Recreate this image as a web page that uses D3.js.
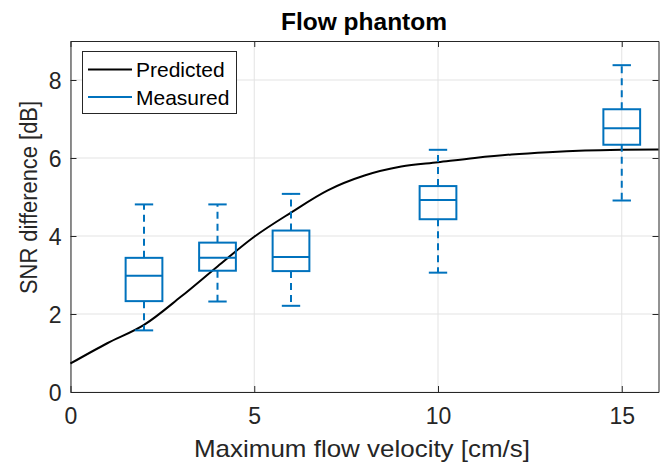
<!DOCTYPE html>
<html>
<head>
<meta charset="utf-8">
<script src="https://cdn.jsdelivr.net/npm/d3@7"></script>
<style>
  html, body { margin: 0; padding: 0; background: #fff; }
  svg { display: block; font-family: "Liberation Sans", Arial, Helvetica, sans-serif; }
</style>
</head>
<body>
<svg id="chart" width="670" height="463"></svg>
<script>
// ---- data ----
const velocities = [2, 4, 6, 10, 15];
const whiskerLow = [1.58, 2.32, 2.21, 3.06, 4.91];
const q1 = [2.33, 3.11, 3.10, 4.43, 6.34];
const medians = [2.98, 3.44, 3.46, 4.92, 6.76];
const q3 = [3.44, 3.83, 4.14, 5.28, 7.25];
const whiskerHigh = [4.81, 4.81, 5.08, 6.21, 8.38];

const predX = [0, 1, 2, 3, 4, 5, 6, 7, 8, 9, 10, 11, 12, 13, 14, 15, 16];
const predY = [0.73, 1.25, 1.72, 2.44, 3.22, 3.98, 4.60, 5.17, 5.55, 5.78, 5.89, 6.00, 6.09, 6.15, 6.19, 6.21, 6.22];

const xTicks = [0, 5, 10, 15];
const yTicks = [0, 2, 4, 6, 8];
const legendLabels = ["Predicted", "Measured"];

// ---- layout ----
const svg = d3.select("#chart");
const pLeft = 70.5, pRight = 658.5, pTop = 41, pBottom = 392;
const x = d3.scaleLinear().domain([0, 16]).range([pLeft, pRight]);
const y = d3.scaleLinear().domain([0, 9]).range([pBottom, pTop]);
const blue = "#0072BD";
const axisCol = "#262626";

// grid
const g = svg.append("g");
g.selectAll(".gx").data(xTicks).join("line")
  .attr("x1", d => x(d)).attr("x2", d => x(d)).attr("y1", pTop).attr("y2", pBottom)
  .attr("stroke", "#e3e3e3").attr("stroke-width", 1);
g.selectAll(".gy").data(yTicks).join("line")
  .attr("x1", pLeft).attr("x2", pRight).attr("y1", d => y(d)).attr("y2", d => y(d))
  .attr("stroke", "#e3e3e3").attr("stroke-width", 1);

// axes
const xAxis = d3.axisBottom(x).tickValues(xTicks).tickSizeInner(-6).tickSizeOuter(0).tickPadding(16);
const yAxis = d3.axisLeft(y).tickValues(yTicks).tickSizeInner(-6).tickSizeOuter(0).tickPadding(9);
const xa = svg.append("g").attr("transform", `translate(0,${pBottom})`).call(xAxis);
const ya = svg.append("g").attr("transform", `translate(${pLeft},0)`).call(yAxis);
const xTopAx = svg.append("g").attr("transform", `translate(0,${pTop})`).call(d3.axisTop(x).tickValues(xTicks).tickSizeInner(-6).tickSizeOuter(0).tickFormat(""));
const yRightAx = svg.append("g").attr("transform", `translate(${pRight},0)`).call(d3.axisRight(y).tickValues(yTicks).tickSizeInner(-6).tickSizeOuter(0).tickFormat(""));
[xa, ya, xTopAx, yRightAx].forEach(a => {
  a.select(".domain").attr("stroke", axisCol).attr("stroke-width", 1);
  a.selectAll(".tick line").attr("stroke", axisCol);
  a.selectAll(".tick text").attr("fill", axisCol).attr("font-size", 23).attr("font-family", "Liberation Sans, Arial, sans-serif");
});
ya.selectAll(".tick text").attr("dy", "0.36em");

// predicted curve
const line = d3.line().x(d => x(d[0])).y(d => y(d[1])).curve(d3.curveMonotoneX);
svg.append("path").datum(predX.map((v, i) => [v, predY[i]]))
  .attr("d", line).attr("fill", "none").attr("stroke", "#000").attr("stroke-width", 2);

// box plots
const boxes = velocities.map((v, i) => ({ v, lo: whiskerLow[i], q1: q1[i], med: medians[i], q3: q3[i], hi: whiskerHigh[i] }));
const bw = 0.5, cw = 0.25;
const bg = svg.append("g").attr("stroke", blue).attr("stroke-width", 2).attr("fill", "none");
boxes.forEach(b => {
  bg.append("line").attr("x1", x(b.v)).attr("x2", x(b.v)).attr("y1", y(b.q3)).attr("y2", y(b.hi)).attr("stroke-dasharray", "7,5");
  bg.append("line").attr("x1", x(b.v)).attr("x2", x(b.v)).attr("y1", y(b.q1)).attr("y2", y(b.lo)).attr("stroke-dasharray", "7,5");
  bg.append("line").attr("x1", x(b.v - cw)).attr("x2", x(b.v + cw)).attr("y1", y(b.hi)).attr("y2", y(b.hi));
  bg.append("line").attr("x1", x(b.v - cw)).attr("x2", x(b.v + cw)).attr("y1", y(b.lo)).attr("y2", y(b.lo));
  bg.append("rect").attr("x", x(b.v - bw)).attr("width", x(b.v + bw) - x(b.v - bw))
    .attr("y", y(b.q3)).attr("height", y(b.q1) - y(b.q3));
  bg.append("line").attr("x1", x(b.v - bw)).attr("x2", x(b.v + bw)).attr("y1", y(b.med)).attr("y2", y(b.med));
});

// title and labels
svg.append("text").attr("x", 364).attr("y", 29.5).attr("text-anchor", "middle")
  .attr("font-size", 24.5).attr("font-weight", "bold").attr("fill", "#000").text("Flow phantom");
svg.append("text").attr("x", 362).attr("y", 457).attr("text-anchor", "middle")
  .attr("font-size", 24).attr("textLength", 336).attr("lengthAdjust", "spacingAndGlyphs")
  .attr("fill", axisCol).text("Maximum flow velocity [cm/s]");
svg.append("text").attr("transform", `translate(37,197.5) rotate(-90)`).attr("text-anchor", "middle")
  .attr("font-size", 23).attr("textLength", 193).attr("lengthAdjust", "spacingAndGlyphs")
  .attr("fill", axisCol).text("SNR difference [dB]");

// legend
const lg = svg.append("g");
lg.append("rect").attr("x", 82.5).attr("y", 51.5).attr("width", 154).attr("height", 62)
  .attr("fill", "#fff").attr("stroke", axisCol).attr("stroke-width", 1);
const legendColors = ["#000", blue];
legendLabels.forEach((t, i) => {
  const yy = 69.5 + i * 27.5;
  lg.append("line").attr("x1", 88).attr("x2", 132).attr("y1", yy).attr("y2", yy)
    .attr("stroke", legendColors[i]).attr("stroke-width", 2);
  lg.append("text").attr("x", 136).attr("y", yy).attr("dy", "0.36em").attr("font-size", 21)
    .attr("fill", "#000").text(t);
});
</script>
</body>
</html>
